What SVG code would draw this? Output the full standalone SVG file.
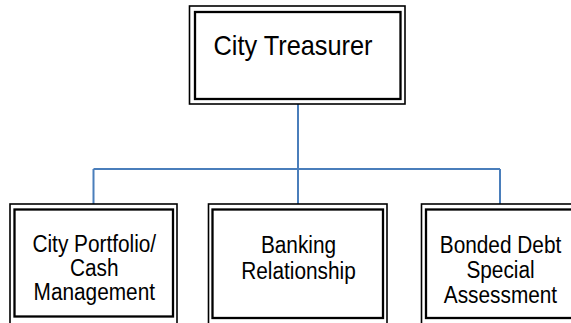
<svg xmlns="http://www.w3.org/2000/svg" width="571" height="323" viewBox="0 0 571 323">
<style>
.o{fill:none;stroke:#000;stroke-width:1.6}
.i{fill:#fff;stroke:#000;stroke-width:2.3}
.c{fill:none;stroke:#4a7ebb;stroke-width:2}
text{font-family:"Liberation Sans",Arial,sans-serif;fill:#000;text-anchor:middle}
.t{font-size:28px}
.s{font-size:23px}
</style>
<rect width="571" height="323" fill="#fff"/>
<g id="connectors">
<path class="c" d="M298 104V169M93.5 169H500M93.5 169V204M298 169V204M500 169V204"/>
</g>
<g id="city-treasurer">
<rect class="o" x="189.5" y="6" width="215.5" height="98"/>
<rect class="i" x="195" y="12" width="205.5" height="87"/>
<text class="t" transform="translate(293,55) scale(0.905,1)">City Treasurer</text>
</g>
<g id="portfolio">
<rect class="o" x="10" y="204" width="167" height="125"/>
<rect class="i" x="14.5" y="209.5" width="158.5" height="107"/>
<text class="s" transform="translate(94.3,252) scale(0.905,1)">City Portfolio/</text>
<text class="s" transform="translate(94.3,276) scale(0.905,1)">Cash</text>
<text class="s" transform="translate(94.3,300) scale(0.905,1)">Management</text>
</g>
<g id="banking">
<rect class="o" x="208.5" y="204" width="178.5" height="125"/>
<rect class="i" x="212.5" y="209.5" width="170.5" height="108.5"/>
<text class="s" transform="translate(298.5,253) scale(0.905,1)">Banking</text>
<text class="s" transform="translate(298.5,279) scale(0.905,1)">Relationship</text>
</g>
<g id="bonded-debt">
<rect class="o" x="421.5" y="204" width="160" height="125"/>
<rect class="i" x="426" y="209.5" width="150" height="108.5"/>
<text class="s" transform="translate(500.5,253) scale(0.905,1)">Bonded Debt</text>
<text class="s" transform="translate(500.5,278) scale(0.905,1)">Special</text>
<text class="s" transform="translate(500.5,303) scale(0.905,1)">Assessment</text>
</g>
</svg>
